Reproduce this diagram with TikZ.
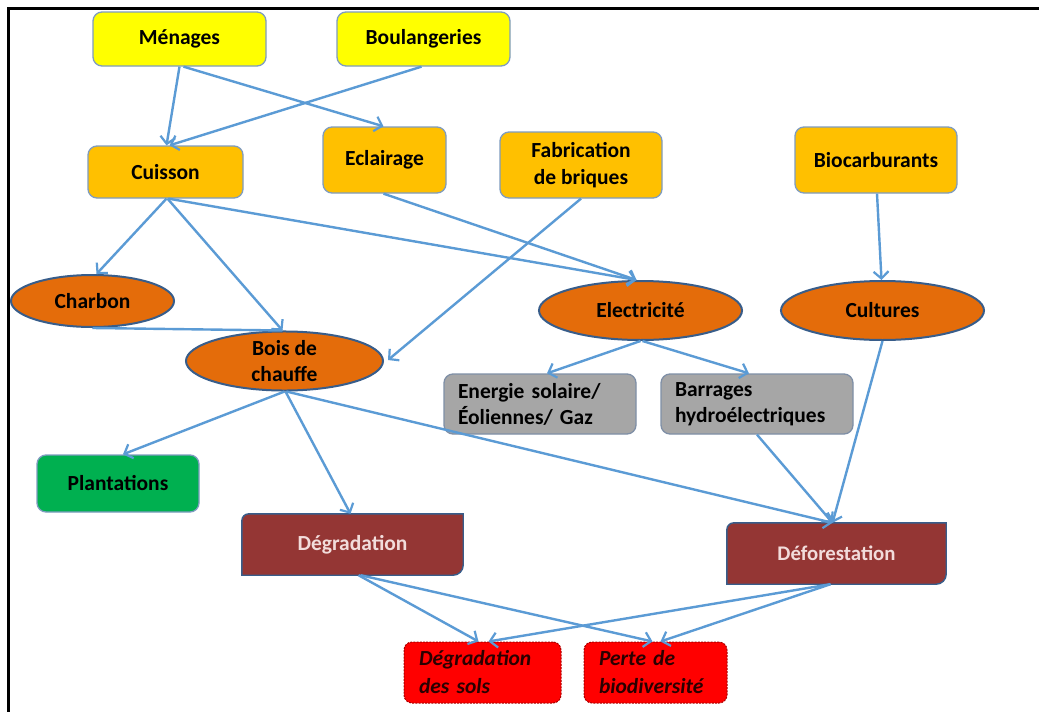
\documentclass[tikz,border=0pt]{standalone}
\usepackage{fontspec}
\setmainfont{Carlito}[BoldFont={Carlito Bold}, BoldItalicFont={Carlito Bold Italic}]
\usetikzlibrary{shapes.geometric,arrows.meta,backgrounds}

\definecolor{arrowblue}{HTML}{5B9BD5}
\definecolor{yellowfill}{HTML}{FFFF00}
\definecolor{amberfill}{HTML}{FFC000}
\definecolor{orangefill}{HTML}{E46C0A}
\definecolor{navyline}{HTML}{385D8A}
\definecolor{boxline}{HTML}{7F9CC0}
\definecolor{greyfill}{HTML}{A6A6A6}
\definecolor{greyline}{HTML}{7F8FA6}
\definecolor{greenfill}{HTML}{00B050}
\definecolor{maroonfill}{HTML}{943634}
\definecolor{redfill}{HTML}{FF0000}
\definecolor{redline}{HTML}{A80000}
\definecolor{palepink}{HTML}{F2DCDB}
\definecolor{darktext}{HTML}{2A0000}

\tikzset{
  x=1pt, y=-1pt,
  bigfont/.style={font=\fontsize{21.5}{26.5}\selectfont\bfseries},
  box/.style={rectangle, rounded corners=9pt, draw=boxline, line width=1.3pt,
    inner sep=0pt, align=center, bigfont},
  yellowbox/.style={box, fill=yellowfill},
  amberbox/.style={box, fill=amberfill},
  greenbox/.style={box, fill=greenfill},
  greybox/.style={box, fill=greyfill, draw=greyline, align=left,
    text width=164pt, inner xsep=14pt,
    font=\fontsize{21.5}{26}\selectfont\bfseries},
  oval/.style={ellipse, draw=navyline, line width=2pt, fill=orangefill,
    inner sep=0pt, align=center, bigfont},
  maroonbox/.style={rectangle, inner sep=0pt, text=palepink, bigfont},
  redbox/.style={rectangle, rounded corners=8pt, fill=redfill, draw=redline,
    line width=1pt, dash pattern=on 2pt off 1.2pt, align=left,
    inner xsep=15pt, inner ysep=0pt, text=darktext,
    font=\fontsize{21.5}{28}\selectfont\bfseries\itshape},
  link/.style={draw=arrowblue, line width=2.4pt,
    -{Straight Barb[length=7pt,width=15pt,line width=2.2pt]}},
  plainlink/.style={draw=arrowblue, line width=2.4pt},
}

\begin{document}
\begin{tikzpicture}
\useasboundingbox (0,0) rectangle (1039,712);

% frame
\draw[line width=2.2pt] (8.5,712) -- (8.5,8.5) -- (1039,8.5);

% users
\node[yellowbox, minimum width=173pt, minimum height=54pt] (men) at (179.5,39) {Ménages};
\node[yellowbox, minimum width=173pt, minimum height=54pt] (bou) at (423.5,39) {Boulangeries};

% uses
\node[amberbox, minimum width=155pt, minimum height=52pt] (cui) at (165.5,172) {Cuisson};
\node[amberbox, minimum width=123pt, minimum height=66pt] (ecl) at (384.5,160) {Eclairage};
\node[amberbox, minimum width=162pt, minimum height=66pt] (fab) at (581,165) {Fabrication\\de briques};
\node[amberbox, minimum width=162pt, minimum height=66pt] (bio) at (876,160) {Biocarburants};

% energy sources
\node[oval, minimum width=163pt, minimum height=52pt] (cha) at (92.5,301) {Charbon};
\node[oval, minimum width=197pt, minimum height=54pt] (bois) at (284.5,361) {Bois de\\chauffe};
\node[oval, minimum width=203pt, minimum height=59pt] (ele) at (640.5,310.5) {Electricité};
\node[oval, minimum width=203pt, minimum height=59pt] (cul) at (882.5,310.5) {Cultures};

% alternatives
\node[greybox, minimum height=60pt] (ene) at (540,404) {Energie solaire/\\Éoliennes/ Gaz};
\node[greybox, minimum height=60pt] (bar) at (757,404) {Barrages\\hydroélectriques};
\node[greenbox, minimum width=162pt, minimum height=57pt] (pla) at (118,483.5) {Plantations};

% impacts
\node[maroonbox, minimum width=221pt, minimum height=61pt] (degr) at (352.5,544.5) {Dégradation};
\node[maroonbox, minimum width=219pt, minimum height=61pt, font=\fontsize{20.8}{24}\selectfont\bfseries] (def) at (836.5,553.5) {Déforestation};

\node[redbox, text width=127pt, minimum height=61pt] (sols) at (482.5,672.5) {Dégradation\\des sols};
\node[redbox, text width=113pt, minimum height=61pt] (perte) at (655.5,672.5) {Perte de\\biodiversité};

% white page, then maroon boxes with rounded top-left and bottom-right corners
\begin{scope}[on background layer]
  \fill[white] (0,0) rectangle (1039,712);
  \foreach \n in {degr,def}{
    \draw[fill=maroonfill, draw=navyline, line width=1.4pt]
      (\n.south west) -- ([yshift=-7pt]\n.north west)
      arc[start angle=180, end angle=90, radius=7pt]
      -- (\n.north east) -- ([yshift=10pt]\n.south east)
      arc[start angle=0, end angle=-90, radius=10pt] -- cycle;
  }
\end{scope}

% links
\draw[link] (men.south) -- ([xshift=1pt]cui.north);
\draw[link] ([xshift=4pt]men.south) -- ([xshift=-1pt]ecl.north);
\draw[link] ([xshift=-2pt]bou.south) -- ([xshift=4pt]cui.north);

\draw[link] ([xshift=1pt]cui.south) -- ([xshift=4pt]cha.north);
\draw[link] ([xshift=2pt]cui.south) -- ([xshift=-2pt]bois.north);
\draw[link] ([xshift=3pt]cui.south) -- ([xshift=-4pt]ele.north);
\draw[link] ([xshift=-1pt]ecl.south) -- ([xshift=-4pt]ele.north);
\draw[link] (fab.south) -- ([xshift=4pt,yshift=1pt]bois.east);
\draw[link] ([xshift=1pt]bio.south) -- ([xshift=-1pt]cul.north);
\draw[plainlink] (cha.south) -- ([xshift=-2pt]bois.north);

\draw[link] (ele.south) -- ([xshift=7pt]ene.north);
\draw[link] ([xshift=2pt]ele.south) -- ([xshift=-8pt]bar.north);

\draw[link] (bois.south) -- ([xshift=5pt]pla.north);
\draw[link] ([xshift=1pt]bois.south) -- ([xshift=-2pt]degr.north);
\draw[link] ([xshift=2pt]bois.south) -- ([xshift=-4pt]def.north);
\draw[link] (bar.south) -- ([xshift=-4pt]def.north);
\draw[link] (cul.south) -- ([xshift=-4pt]def.north);

\draw[link] ([xshift=6pt]degr.south) -- ([xshift=-4pt]sols.north);
\draw[link] ([xshift=8pt]degr.south) -- ([xshift=-3pt]perte.north);
\draw[link] ([xshift=-6pt]def.south) -- ([xshift=6pt]sols.north);
\draw[link] ([xshift=-6pt]def.south) -- ([xshift=5pt]perte.north);
\end{tikzpicture}
\end{document}
